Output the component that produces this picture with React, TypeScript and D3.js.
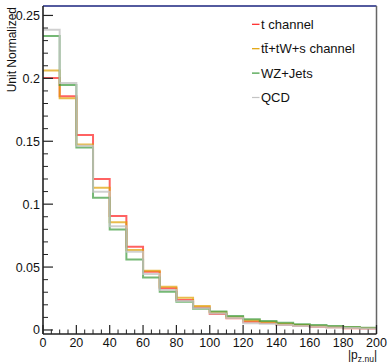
import React from "react";
import { scaleLinear, line, curveStepAfter, range } from "d3";

const binLow = [0, 10, 20, 30, 40, 50, 60, 70, 80, 90, 100, 110, 120, 130, 140, 150, 160, 170, 180, 190];

const tChannel = [0.2002, 0.1857, 0.155, 0.120, 0.0905, 0.0661, 0.0463, 0.0331, 0.0238, 0.0178, 0.0126, 0.0093, 0.0066, 0.0056, 0.0042, 0.0034, 0.0026, 0.0021, 0.0014, 0.0012];
const ttbar = [0.2063, 0.1841, 0.1474, 0.113, 0.0857, 0.0635, 0.0471, 0.0344, 0.0257, 0.0190, 0.0140, 0.0102, 0.0076, 0.0063, 0.0050, 0.0040, 0.0032, 0.0026, 0.0020, 0.0016];
const wzJets = [0.2336, 0.1947, 0.145, 0.105, 0.0799, 0.0561, 0.0418, 0.0304, 0.0225, 0.0168, 0.0146, 0.0111, 0.0085, 0.0071, 0.0058, 0.0045, 0.0040, 0.0032, 0.0024, 0.0018];
const qcd = [0.2387, 0.1963, 0.1465, 0.1098, 0.0825, 0.0621, 0.0444, 0.0317, 0.0230, 0.0172, 0.0130, 0.0095, 0.0053, 0.0050, 0.0040, 0.0032, 0.0025, 0.0020, 0.0015, 0.0012];

const seriesNames = ["t channel", "t\u0074\u0304+tW+s channel", "WZ+Jets", "QCD"];
const seriesColors = ["#ff2020", "#e0a000", "#3a9a3a", "#c4c4c4"];
const seriesValues = [tChannel, ttbar, wzJets, qcd];

const xTicks = [0, 20, 40, 60, 80, 100, 120, 140, 160, 180, 200];
const yTicks = [0, 0.05, 0.1, 0.15, 0.2, 0.25];
const yTickLabels = ["0", "0.05", "0.1", "0.15", "0.2", "0.25"];

const W = 388;
const H = 362;
const left = 43;
const right = 376.5;
const top = 6;
const bottom = 334;
const font = "'Liberation Sans', Arial, Helvetica, sans-serif";

export default function App() {
  const x = scaleLinear().domain([0, 200]).range([left, right]);
  const y = scaleLinear().domain([-0.0032, 0.2575]).range([bottom, top]);

  const step = line<[number, number]>()
    .x((d) => x(d[0]))
    .y((d) => y(d[1]))
    .curve(curveStepAfter);

  const minorX = range(0, 201, 5).filter((v) => v % 20 !== 0);
  const minorY = range(0, 0.2575, 0.01).filter((v) => Math.round(v * 100) % 5 !== 0);

  return (
    <svg
      width={W}
      height={H}
      style={{ position: "absolute", left: 0, top: 0, background: "#fff" }}
      fontFamily={font}
    >
      {/* histograms */}
      {seriesValues.map((vals, i) => {
        const pts: [number, number][] = vals.map((v, j) => [binLow[j], v]);
        pts.push([200, vals[vals.length - 1]]);
        return (
          <path
            key={i}
            d={step(pts) ?? ""}
            fill="none"
            stroke={seriesColors[i]}
            strokeWidth={2}
            strokeOpacity={i === 3 ? 0.8 : 0.7}
          />
        );
      })}

      {/* frame */}
      <line x1={left} x2={right} y1={top} y2={top} stroke="#1a237e" strokeWidth={1.5} />
      <line x1={right} x2={right} y1={top} y2={bottom} stroke="#666" strokeWidth={1.5} />
      <line x1={left} x2={left} y1={top} y2={bottom} stroke="#222" strokeWidth={1.6} />
      <line x1={left} x2={right} y1={bottom} y2={bottom} stroke="#222" strokeWidth={1.6} />

      {/* y ticks */}
      {yTicks.map((t, i) => (
        <g key={i}>
          <line x1={left} x2={left + 10} y1={y(t)} y2={y(t)} stroke="#222" strokeWidth={1.2} />
          <text x={left - 3} y={y(t)} dy="0.36em" textAnchor="end" fontSize={12.5} fill="#111">
            {yTickLabels[i]}
          </text>
        </g>
      ))}
      {minorY.map((t, i) => (
        <line key={i} x1={left} x2={left + 5} y1={y(t)} y2={y(t)} stroke="#222" strokeWidth={1} />
      ))}

      {/* x ticks */}
      {xTicks.map((t, i) => (
        <g key={i}>
          <line x1={x(t)} x2={x(t)} y1={bottom} y2={bottom - 9} stroke="#222" strokeWidth={1.2} />
          <text x={x(t)} y={347} textAnchor="middle" fontSize={12.5} fill="#111">
            {t}
          </text>
        </g>
      ))}
      {minorX.map((t, i) => (
        <line key={i} x1={x(t)} x2={x(t)} y1={bottom} y2={bottom - 4.5} stroke="#222" strokeWidth={1} />
      ))}

      {/* axis titles */}
      <text
        transform="translate(16,7) rotate(-90)"
        textAnchor="end"
        fontSize={12}
        fill="#111"
      >
        Unit Normalized
      </text>
      <text x={377} y={359} textAnchor="end" fontSize={12} fill="#111">
        |p
        <tspan fontSize={8.5} dy={3}>z,nu</tspan>
        <tspan dy={-3}>|</tspan>
      </text>

      {/* legend */}
      {seriesNames.map((name, i) => {
        const cy = 24.3 + i * 24.4;
        return (
          <g key={i}>
            <line x1={252} x2={259.5} y1={cy} y2={cy} stroke={seriesColors[i]} strokeWidth={1.2} />
            <text x={261} y={cy} dy="0.36em" fontSize={13} fill="#111">
              {name}
            </text>
          </g>
        );
      })}
    </svg>
  );
}
